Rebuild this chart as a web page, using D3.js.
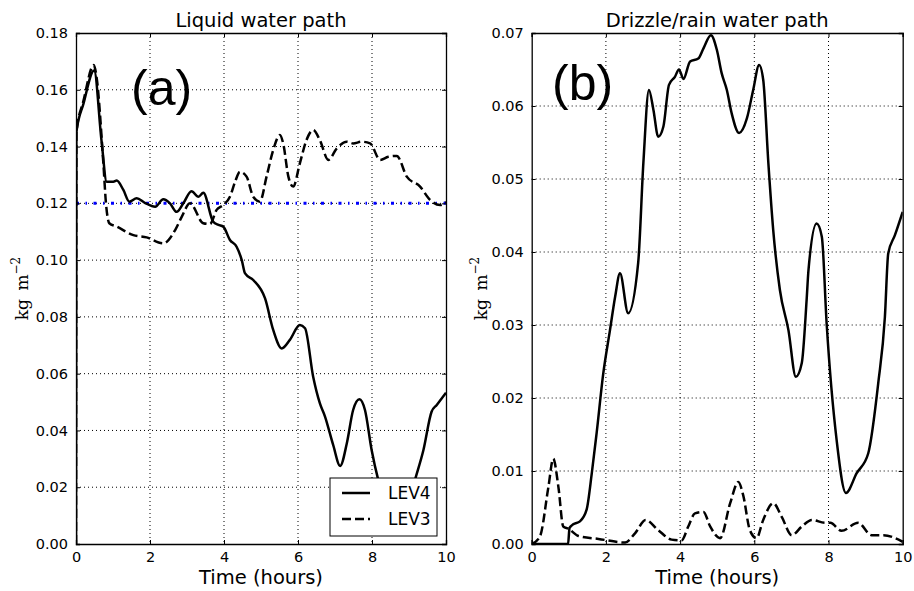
<!DOCTYPE html>
<html>
<head>
<meta charset="utf-8">
<script src="https://cdn.jsdelivr.net/npm/d3@7"></script>
<style>
  body { margin: 0; background: #fff; }
  svg { display: block; }
</style>
</head>
<body>
<script>
var w = 914;
var h = 591;

// ---- data ----
var xTicks = [0, 2, 4, 6, 8, 10];
var yTicksA = [0, 0.02, 0.04, 0.06, 0.08, 0.10, 0.12, 0.14, 0.16, 0.18];
var yTicksB = [0, 0.01, 0.02, 0.03, 0.04, 0.05, 0.06, 0.07];
var seriesNames = ["LEV4", "LEV3"];
var refLevel = 0.12;

// (a) liquid water path, LEV4
var lwpLev4T = [0, 0.01, 0.2, 0.49, 0.69, 0.83, 1.01, 1.1, 1.28, 1.44, 1.64, 1.86, 2.14, 2.36, 2.54, 2.72, 2.9, 3.12, 3.31, 3.44, 3.71, 3.85, 3.98, 4.16, 4.34, 4.48, 4.57, 4.79, 5.11, 5.33, 5.56, 5.78, 6.05, 6.19, 6.41, 6.59, 6.73, 6.95, 7.14, 7.32, 7.49, 7.66, 7.81, 7.99, 8.17, 8.4, 8.6, 8.8, 9.0, 9.16, 9.39, 9.61, 9.75, 10];
var lwpLev4V = [0, 0.145, 0.155, 0.1668, 0.142, 0.1276, 0.1276, 0.128, 0.1247, 0.1206, 0.1218, 0.1202, 0.1188, 0.1214, 0.12, 0.117, 0.12, 0.1243, 0.1223, 0.1237, 0.1135, 0.1124, 0.1118, 0.1071, 0.1047, 0.1, 0.0953, 0.093, 0.0865, 0.0754, 0.0689, 0.0719, 0.0771, 0.076, 0.0589, 0.0496, 0.0449, 0.0349, 0.0275, 0.0355, 0.0472, 0.051, 0.0472, 0.0331, 0.0225, 0.013, 0.01, 0.011, 0.015, 0.0225, 0.0331, 0.0466, 0.049, 0.0533];

// (a) liquid water path, LEV3
var lwpLev3T = [0, 0.01, 0.2, 0.48, 0.55, 0.74, 0.81, 0.9, 1.1, 1.55, 1.91, 2.36, 2.68, 2.86, 3.08, 3.44, 3.62, 3.8, 3.98, 4.16, 4.3, 4.43, 4.61, 4.79, 4.97, 5.15, 5.33, 5.51, 5.6, 5.74, 5.87, 6.05, 6.23, 6.41, 6.59, 6.82, 7.05, 7.32, 7.49, 7.72, 7.95, 8.22, 8.44, 8.67, 8.94, 9.3, 9.57, 9.84, 10];
var lwpLev3V = [0, 0.145, 0.156, 0.1687, 0.165, 0.134, 0.12, 0.113, 0.1118, 0.1088, 0.108, 0.1059, 0.1106, 0.1153, 0.12, 0.113, 0.1127, 0.1177, 0.1194, 0.1223, 0.1276, 0.1311, 0.1294, 0.1223, 0.1206, 0.1294, 0.1388, 0.1441, 0.1411, 0.1294, 0.1259, 0.1341, 0.1423, 0.1458, 0.1423, 0.1353, 0.1394, 0.1417, 0.1411, 0.1417, 0.1411, 0.1353, 0.1364, 0.1367, 0.1294, 0.1259, 0.1212, 0.1194, 0.1205];

// (b) drizzle/rain water path, LEV4
var rwpLev4T = [0, 0.98, 1.02, 1.12, 1.3, 1.48, 1.62, 1.75, 1.93, 2.11, 2.25, 2.38, 2.6, 2.87, 3.01, 3.16, 3.28, 3.41, 3.55, 3.7, 3.86, 3.97, 4.09, 4.27, 4.49, 4.63, 4.83, 4.99, 5.12, 5.26, 5.39, 5.59, 5.8, 5.97, 6.13, 6.24, 6.38, 6.51, 6.69, 6.92, 7.12, 7.28, 7.41, 7.46, 7.68, 7.82, 7.95, 8.22, 8.47, 8.76, 9.07, 9.34, 9.52, 9.61, 9.79, 10];
var rwpLev4V = [0, 0, 0.0022, 0.0027, 0.0031, 0.0047, 0.0097, 0.0152, 0.0234, 0.0293, 0.0339, 0.0371, 0.0316, 0.0385, 0.0522, 0.0622, 0.0595, 0.0558, 0.0572, 0.0629, 0.064, 0.065, 0.0637, 0.0661, 0.0665, 0.0679, 0.0697, 0.0677, 0.0645, 0.0622, 0.059, 0.0563, 0.0583, 0.0622, 0.0656, 0.0636, 0.0521, 0.043, 0.0348, 0.0293, 0.0229, 0.0248, 0.0334, 0.0375, 0.0439, 0.0421, 0.0302, 0.0142, 0.007, 0.0097, 0.0124, 0.022, 0.0311, 0.0398, 0.0423, 0.0455];

// (b) drizzle/rain water path, LEV3
var rwpLev3T = [0, 0.22, 0.45, 0.58, 0.72, 0.85, 0.99, 1.26, 1.8, 2.52, 2.79, 3.07, 3.41, 3.77, 4.04, 4.22, 4.4, 4.63, 4.81, 5.08, 5.35, 5.57, 5.7, 5.88, 6.06, 6.24, 6.51, 6.74, 7.01, 7.28, 7.55, 7.91, 8.05, 8.35, 8.8, 9.16, 9.48, 10];
var rwpLev3V = [0, 0.001, 0.0078, 0.0117, 0.0078, 0.0024, 0.0021, 0.0011, 0.0007, 0.0002, 0.0015, 0.0033, 0.0019, 0.0006, 0.0005, 0.0024, 0.0042, 0.0044, 0.0024, 0.0008, 0.0056, 0.0085, 0.0067, 0.0019, 0.0008, 0.0033, 0.0056, 0.0037, 0.0012, 0.0024, 0.0033, 0.0029, 0.0029, 0.0018, 0.0029, 0.0012, 0.0012, 0.0003];

var font = "DejaVu Sans, sans-serif";

var svg = d3.select("body")
  .append("svg")
  .attr("width", w)
  .attr("height", h);

function zip(ts, vs) {
  return ts.map(function(t, i) { return [t, vs[i]]; });
}

function drawPanel(opt) {
  var xScale = d3.scaleLinear().domain([0, 10]).range([opt.left, opt.right]);
  var yScale = d3.scaleLinear().domain([0, opt.yMax]).range([opt.bottom, opt.top]);

  var g = svg.append("g");

  g.append("clipPath")
    .attr("id", opt.id + "clip")
    .append("rect")
    .attr("x", opt.left)
    .attr("y", opt.top)
    .attr("width", opt.right - opt.left)
    .attr("height", opt.bottom - opt.top);

  // grid
  g.selectAll(".vgrid")
    .data(xTicks.slice(1, -1))
    .enter()
    .append("line")
    .attr("x1", function(d) { return xScale(d); })
    .attr("x2", function(d) { return xScale(d); })
    .attr("y1", opt.top)
    .attr("y2", opt.bottom)
    .attr("stroke", "#000")
    .attr("stroke-width", 1)
    .attr("stroke-dasharray", "1,3");

  g.selectAll(".hgrid")
    .data(opt.yTicks.slice(1, -1))
    .enter()
    .append("line")
    .attr("x1", opt.left)
    .attr("x2", opt.right)
    .attr("y1", function(d) { return yScale(d); })
    .attr("y2", function(d) { return yScale(d); })
    .attr("stroke", "#000")
    .attr("stroke-width", 1)
    .attr("stroke-dasharray", "1,3");

  var line = d3.line()
    .x(function(d) { return xScale(d[0]); })
    .y(function(d) { return yScale(d[1]); })
    .curve(d3.curveMonotoneX);

  var lines = g.append("g").attr("clip-path", "url(#" + opt.id + "clip)");

  if (opt.ref != null) {
    lines.append("line")
      .attr("x1", xScale(0))
      .attr("x2", xScale(10))
      .attr("y1", yScale(opt.ref))
      .attr("y2", yScale(opt.ref))
      .attr("stroke", "#0000ff")
      .attr("stroke-width", 3)
      .attr("stroke-dasharray", "3,6.5,1.5,6.5");
  }

  lines.append("path")
    .datum(opt.lev3)
    .attr("d", line)
    .attr("fill", "none")
    .attr("stroke", "#000")
    .attr("stroke-width", 2.5)
    .attr("stroke-dasharray", "9,4");

  lines.append("path")
    .datum(opt.lev4)
    .attr("d", line)
    .attr("fill", "none")
    .attr("stroke", "#000")
    .attr("stroke-width", 2.5);

  // axes (ticks inside, like matplotlib classic)
  var xAxis = d3.axisBottom(xScale).tickValues(xTicks).tickSize(-4).tickPadding(8).tickFormat(d3.format("d"));
  var xAxisTop = d3.axisTop(xScale).tickValues(xTicks).tickSize(-4).tickFormat("");
  var yAxis = d3.axisLeft(yScale).tickValues(opt.yTicks).tickSize(-4).tickPadding(8).tickFormat(d3.format(".2f"));
  var yAxisRight = d3.axisRight(yScale).tickValues(opt.yTicks).tickSize(-4).tickFormat("");

  var axes = [
    g.append("g").attr("transform", "translate(0," + opt.bottom + ")").call(xAxis),
    g.append("g").attr("transform", "translate(0," + opt.top + ")").call(xAxisTop),
    g.append("g").attr("transform", "translate(" + opt.left + ",0)").call(yAxis),
    g.append("g").attr("transform", "translate(" + opt.right + ",0)").call(yAxisRight)
  ];
  axes.forEach(function(a) {
    a.select(".domain").attr("stroke", "#000").attr("stroke-width", 1.3);
    a.selectAll(".tick line").attr("stroke", "#000").attr("stroke-width", 1);
    a.selectAll("text")
      .attr("font-family", font)
      .attr("font-size", 14.5)
      .attr("fill", "#000");
  });

  // titles and labels
  g.append("text")
    .attr("x", (opt.left + opt.right) / 2)
    .attr("y", 27)
    .attr("text-anchor", "middle")
    .attr("font-family", font)
    .attr("font-size", 19.5)
    .text(opt.title);

  g.append("text")
    .attr("x", (opt.left + opt.right) / 2)
    .attr("y", 584)
    .attr("text-anchor", "middle")
    .attr("font-family", font)
    .attr("font-size", 19.5)
    .text("Time (hours)");

  var yl = g.append("text")
    .attr("transform", "translate(" + opt.yLabelX + "," + ((opt.top + opt.bottom) / 2) + ") rotate(-90)")
    .attr("text-anchor", "middle")
    .attr("font-family", "DejaVu Serif, serif")
    .attr("font-size", 17);
  yl.append("tspan").text("kg\u2002m");
  yl.append("tspan").attr("dy", -8).attr("font-size", 12).text("\u22122");

  g.append("text")
    .attr("x", opt.tagX)
    .attr("y", opt.tagY)
    .attr("font-family", "Liberation Sans, Arial, sans-serif")
    .attr("font-size", 50)
    .text(opt.tag);

  return { x: xScale, y: yScale };
}

var pa = drawPanel({
  id: "a", left: 76, right: 446, top: 33, bottom: 544,
  yMax: 0.18, yTicks: yTicksA, title: "Liquid water path",
  lev4: zip(lwpLev4T, lwpLev4V), lev3: zip(lwpLev3T, lwpLev3V),
  ref: refLevel, yLabelX: 28, tag: "(a)", tagX: 131, tagY: 105
});

var pb = drawPanel({
  id: "b", left: 531.7, right: 902.7, top: 33, bottom: 544,
  yMax: 0.07, yTicks: yTicksB, title: "Drizzle/rain water path",
  lev4: zip(rwpLev4T, rwpLev4V), lev3: zip(rwpLev3T, rwpLev3V),
  ref: null, yLabelX: 487, tag: "(b)", tagX: 552, tagY: 100
});

// legend in panel (a)
var legend = svg.append("g").attr("transform", "translate(330,478)");
legend.append("rect")
  .attr("width", 107)
  .attr("height", 58)
  .attr("fill", "#fff")
  .attr("stroke", "#000")
  .attr("stroke-width", 1);

legend.selectAll(".item")
  .data(seriesNames)
  .enter()
  .append("line")
  .attr("x1", 12)
  .attr("x2", 40)
  .attr("y1", function(d, i) { return 15 + i * 26; })
  .attr("y2", function(d, i) { return 15 + i * 26; })
  .attr("stroke", "#000")
  .attr("stroke-width", 2.5)
  .attr("stroke-dasharray", function(d, i) { return i == 1 ? "9,4" : null; });

legend.selectAll(".lbl")
  .data(seriesNames)
  .enter()
  .append("text")
  .attr("x", 58)
  .attr("y", function(d, i) { return 21 + i * 26; })
  .attr("font-family", font)
  .attr("font-size", 17)
  .text(function(d) { return d; });
</script>
</body>
</html>
